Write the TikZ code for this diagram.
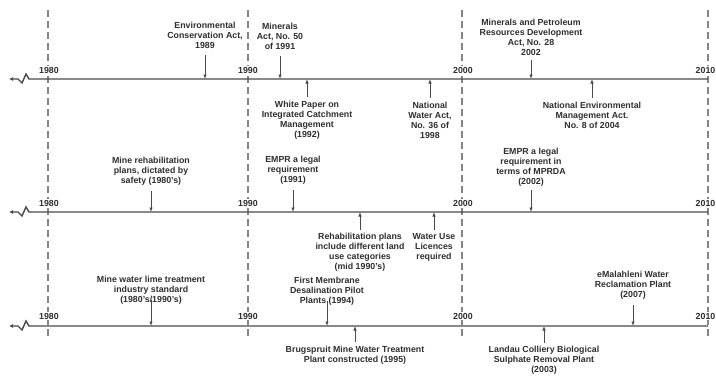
\documentclass[tikz,border=0pt]{standalone}
\usepackage{fontspec}
\setmainfont{Liberation Sans}
\usepackage{xcolor}
\usetikzlibrary{arrows.meta,positioning}
\definecolor{inkgray}{HTML}{2E2E2E}
\definecolor{linegray}{HTML}{4A4A4A}
\definecolor{gridgray}{HTML}{858585}

\begin{document}
\begin{tikzpicture}[
  x=1pt, y=-1pt,
  evt/.style={align=center, inner sep=0pt, text=inkgray, font=\fontsize{8.8}{10}\selectfont\bfseries},
  yr/.style={inner sep=0.5pt, fill=white, text=inkgray, font=\fontsize{8.8}{10}\selectfont\bfseries},
  tl/.style={draw=linegray, line width=1.4pt, -{Latex[length=4pt,width=4pt]}},
  decade/.style={draw=gridgray, line width=1.1pt, dash pattern=on 7pt off 4pt},
  evarr/.style={draw=linegray, line width=0.8pt, -{Latex[length=4.5pt,width=3.5pt]}}
]
  \useasboundingbox (0,0) rectangle (716,376);

  % decade guides
  \coordinate (g80t) at (48,10);  \coordinate (g80b) at (48,337);
  \coordinate (g90t) at (248,10); \coordinate (g90b) at (248,337);
  \coordinate (g00t) at (462,10); \coordinate (g00b) at (462,337);
  \coordinate (g10t) at (708,10); \coordinate (g10b) at (708,337);
  \draw[decade] (g80t) -- (g80b);
  \draw[decade] (g90t) -- (g90b);
  \draw[decade] (g00t) -- (g00b);
  \draw[decade] (g10t) -- (g10b);

  % three time lines
  \coordinate (a0) at (29,79);  \coordinate (a1) at (708,79);
  \coordinate (b0) at (29,212); \coordinate (b1) at (708,212);
  \coordinate (c0) at (29,326); \coordinate (c1) at (708,326);
  \draw[tl] (a1) -- (a0) -- ++(-3,-5) -- ++(-4,9) -- ++(-4,-4) -- ++(-9,0);
  \draw[tl] (b1) -- (b0) -- ++(-3,-5) -- ++(-4,9) -- ++(-4,-4) -- ++(-9,0);
  \draw[tl] (c1) -- (c0) -- ++(-3,-5) -- ++(-4,9) -- ++(-4,-4) -- ++(-9,0);

  \node[yr] (y80a) at (49,70) {1980};
  \node[yr] (y90a) at (248,70) {1990};
  \node[yr] (y00a) at (463,70) {2000};
  \node[yr, anchor=east] (y10a) at (716,70) {2010};
  \node[yr] (y80b) at (49,203) {1980};
  \node[yr] (y90b) at (248,203) {1990};
  \node[yr] (y00b) at (463,203) {2000};
  \node[yr, anchor=east] (y10b) at (716,203) {2010};
  \node[yr] (y80c) at (49,316) {1980};
  \node[yr] (y90c) at (248,316) {1990};
  \node[yr] (y00c) at (463,316) {2000};
  \node[yr, anchor=east] (y10c) at (716,316) {2010};

  % legislation
  \node[evt] (eca) at (205,35) {Environmental\\Conservation Act,\\1989};
  \node[evt] (ma50) at (280,36) {Minerals\\Act, No. 50\\of 1991};
  \node[evt] (wpicm) at (307,120) {White Paper on\\Integrated Catchment\\Management\\(1992)};
  \node[evt] (nwa) at (430,120) {National\\Water Act,\\No. 36 of\\1998};
  \node[evt] (mprda) at (531,37) {Minerals and Petroleum\\Resources Development\\Act, No. 28\\2002};
  \node[evt] (nema) at (592,115) {National Environmental\\Management Act.\\No. 8 of 2004};
  \draw[evarr, shorten <=7pt] (eca) -- (eca |- a1);
  \draw[evarr, shorten <=7pt] (ma50) -- (ma50 |- a1);
  \draw[evarr, shorten <=4pt] (wpicm) -- (wpicm |- a1);
  \draw[evarr, shorten <=4pt] (nwa) -- (nwa |- a1);
  \draw[evarr, shorten <=5pt] (mprda) -- (mprda |- a1);
  \draw[evarr, shorten <=4pt] (nema) -- (nema |- a1);

  % rehabilitation and licensing
  \node[evt] (rehab80) at (151,171) {Mine rehabilitation\\plans, dictated by\\safety (1980's)};
  \node[evt] (empr91) at (293,170) {EMPR a legal\\requirement\\(1991)};
  \node[evt] (rehabmid) at (360,252) {Rehabilitation plans\\include different land\\use categories\\(mid 1990's)};
  \node[evt] (wul) at (434,247) {Water Use\\Licences\\required};
  \node[evt] (empr02) at (531,167) {EMPR a legal\\requirement in\\terms of MPRDA\\(2002)};
  \draw[evarr, shorten <=6pt] (rehab80) -- (rehab80 |- b1);
  \draw[evarr, shorten <=6pt] (empr91) -- (empr91 |- b1);
  \draw[evarr, shorten <=3pt] (rehabmid) -- (rehabmid |- b1);
  \draw[evarr, shorten <=3pt] (wul) -- (wul |- b1);
  \draw[evarr, shorten <=4pt] (empr02) -- (empr02 |- b1);

  % treatment technology
  \node[evt] (lime) at (151,290) {Mine water lime treatment\\industry standard\\(1980's/1990's)};
  \node[evt] (fmdp) at (327,291) {First Membrane\\Desalination Pilot\\Plants (1994)};
  \node[evt] (brug) at (355,355) {Brugspruit Mine Water Treatment\\Plant constructed (1995)};
  \node[evt] (landau) at (544,360) {Landau Colliery Biological\\Sulphate Removal Plant\\(2003)};
  \node[evt] (emal) at (633,285) {eMalahleni Water\\Reclamation Plant\\(2007)};
  \draw[evarr, shorten <=-4pt] (lime) -- (lime |- c1);
  \draw[evarr, shorten <=-4pt] (fmdp) -- (fmdp |- c1);
  \draw[evarr, shorten <=4pt] (brug) -- (brug |- c1);
  \draw[evarr, shorten <=3pt] (landau) -- (landau |- c1);
  \draw[evarr, shorten <=6pt] (emal) -- (emal |- c1);
\end{tikzpicture}
\end{document}
